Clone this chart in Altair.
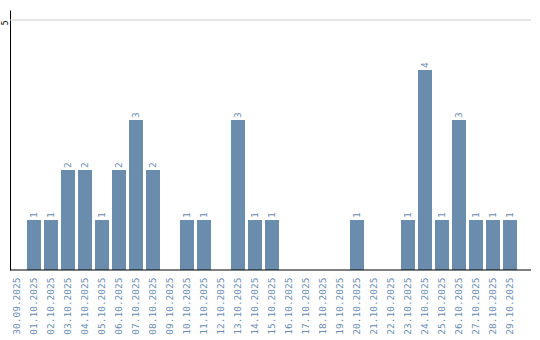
import altair as alt
import pandas as pd

dates = ["30.09.2025", "01.10.2025", "02.10.2025", "03.10.2025", "04.10.2025",
         "05.10.2025", "06.10.2025", "07.10.2025", "08.10.2025", "09.10.2025",
         "10.10.2025", "11.10.2025", "12.10.2025", "13.10.2025", "14.10.2025",
         "15.10.2025", "16.10.2025", "17.10.2025", "18.10.2025", "19.10.2025",
         "20.10.2025", "21.10.2025", "22.10.2025", "23.10.2025", "24.10.2025",
         "25.10.2025", "26.10.2025", "27.10.2025", "28.10.2025", "29.10.2025"]
counts = [0, 1, 1, 2, 2, 1, 2, 3, 2, 0,
          1, 1, 0, 3, 1, 1, 0, 0, 0, 0,
          1, 0, 0, 1, 4, 1, 3, 1, 1, 1]

df = pd.DataFrame({"date": dates, "count": counts})
nz = df[df["count"] > 0]

FONT = "DejaVu Sans Mono"
BAR = "#6a8cad"
LBL = "#6a8cb0"

xscale = alt.Scale(domain=dates, range=[0, 507], paddingInner=3 / 17, paddingOuter=0)
yscale = alt.Scale(domain=[0, 5.2], nice=False, zero=True)

xenc = alt.X("date:N", sort=dates, scale=xscale,
             axis=alt.Axis(title=None, labelAngle=270, labelAlign="right",
                           labelBaseline="middle", ticks=False, domain=False,
                           labelPadding=7, labelColor=LBL, labelFont=FONT,
                           labelFontSize=9.5, grid=False))
yenc = alt.Y("count:Q", scale=yscale,
             axis=alt.Axis(title=None, values=[5], labelAngle=270, ticks=False,
                           grid=False, domainColor="black", domainWidth=1,
                           labelColor="black", labelFont=FONT, labelFontSize=8,
                           labelAlign="right", labelBaseline="alphabetic",
                           labelPadding=3))

bars = alt.Chart(nz).mark_bar(color=BAR).encode(x=xenc, y=yenc)

labels = alt.Chart(nz).mark_text(angle=270, align="left", baseline="middle",
                                 dx=2, font=FONT, fontSize=9.5, color=LBL).encode(
    x=alt.X("date:N", sort=dates, scale=xscale),
    y=alt.Y("count:Q", scale=yscale),
    text="count:Q")

grid = alt.Chart(pd.DataFrame({"v": [5]})).mark_rule(color="#cccccc", strokeWidth=1).encode(
    y=alt.Y("v:Q", scale=yscale), x=alt.value(0), x2=alt.value(521))

baseline = alt.Chart(pd.DataFrame({"v": [0]})).mark_rule(color="black", strokeWidth=1).encode(
    y=alt.Y("v:Q", scale=yscale), x=alt.value(0), x2=alt.value(521))

chart = alt.layer(grid, bars, labels, baseline).properties(
    width=521, height=260,
    background="white",
    autosize=alt.AutoSizeParams(type="none"),
    padding={"left": 10, "top": 10, "right": 9, "bottom": 70},
).configure_view(stroke=None)

chart.save("out.html", embed_options={"renderer": "svg", "actions": False})
